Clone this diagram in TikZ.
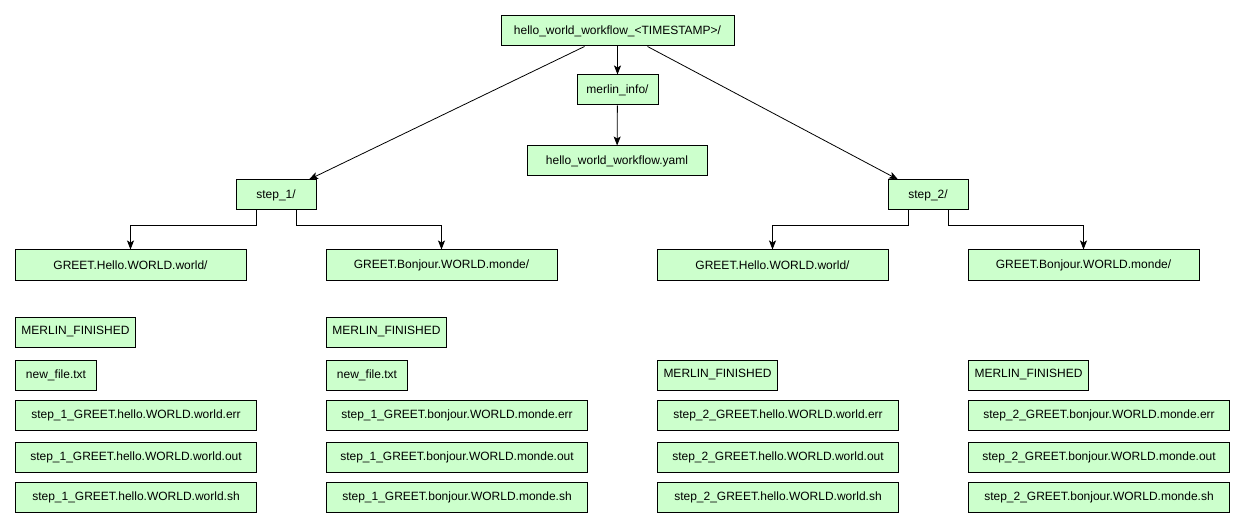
\documentclass[tikz,border=0pt]{standalone}
\usepackage{fontspec}
\setmainfont{Liberation Sans}
\usetikzlibrary{arrows.meta}
\definecolor{boxgreen}{HTML}{CCFFCC}

\begin{document}
\begin{tikzpicture}[x=1pt, y=-1pt,
        entry/.style={rectangle, draw=black, fill=boxgreen, line width=1pt, inner sep=0pt,
            minimum height=30pt, font=\fontsize{12}{14}\selectfont},
        listentry/.style={entry, anchor=west},
        arrow/.style={-{Stealth[length=9pt, width=7pt, inset=2pt]}, line width=0.8pt}
    ]
        \useasboundingbox (0,0) rectangle (1244,529);

        % Workflow root and its info folder
        \node[entry, minimum width=233pt] (root) at (617.5,31) {hello\_world\_workflow\_<TIMESTAMP>/};
        \node[entry, minimum width=81pt] (merlin) at (617.5,90) {merlin\_info/};
        \node[entry, minimum width=180pt] (spec) at (617,161) {hello\_world\_workflow.yaml};

        % Step folders
        \node[entry, minimum width=80pt] (step1) at (276,195) {step\_1/};
        \node[entry, minimum width=80pt] (step2) at (928,195) {step\_2/};

        % Parameter folders
        \node[entry, minimum width=231pt] (hello1) at (130.5,265) {GREET.Hello.WORLD.world/};
        \node[entry, minimum width=231pt] (bonjour1) at (441.5,265) {GREET.Bonjour.WORLD.monde/};
        \node[entry, minimum width=231pt] (hello2) at (772.5,265) {GREET.Hello.WORLD.world/};
        \node[entry, minimum width=231pt] (bonjour2) at (1083.5,265) {GREET.Bonjour.WORLD.monde/};

        % Files of step_1, Hello
        \node[listentry, minimum width=120pt] (h1_fin) at (15,332) {MERLIN\_FINISHED};
        \node[listentry, minimum width=81pt] (h1_txt) at (15,375) {new\_file.txt};
        \node[listentry, minimum width=241pt] (h1_err) at (15,415) {step\_1\_GREET.hello.WORLD.world.err};
        \node[listentry, minimum width=241pt] (h1_out) at (15,457) {step\_1\_GREET.hello.WORLD.world.out};
        \node[listentry, minimum width=241pt] (h1_sh) at (15,497) {step\_1\_GREET.hello.WORLD.world.sh};

        % Files of step_1, Bonjour
        \node[listentry, minimum width=120pt] (b1_fin) at (326,332) {MERLIN\_FINISHED};
        \node[listentry, minimum width=81pt] (b1_txt) at (326,375) {new\_file.txt};
        \node[listentry, minimum width=261pt] (b1_err) at (326,415) {step\_1\_GREET.bonjour.WORLD.monde.err};
        \node[listentry, minimum width=261pt] (b1_out) at (326,457) {step\_1\_GREET.bonjour.WORLD.monde.out};
        \node[listentry, minimum width=261pt] (b1_sh) at (326,497) {step\_1\_GREET.bonjour.WORLD.monde.sh};

        % Files of step_2, Hello
        \node[listentry, minimum width=120pt] (h2_fin) at (657,375) {MERLIN\_FINISHED};
        \node[listentry, minimum width=241pt] (h2_err) at (657,415) {step\_2\_GREET.hello.WORLD.world.err};
        \node[listentry, minimum width=241pt] (h2_out) at (657,457) {step\_2\_GREET.hello.WORLD.world.out};
        \node[listentry, minimum width=241pt] (h2_sh) at (657,497) {step\_2\_GREET.hello.WORLD.world.sh};

        % Files of step_2, Bonjour
        \node[listentry, minimum width=120pt] (b2_fin) at (968,375) {MERLIN\_FINISHED};
        \node[listentry, minimum width=261pt] (b2_err) at (968,415) {step\_2\_GREET.bonjour.WORLD.monde.err};
        \node[listentry, minimum width=261pt] (b2_out) at (968,457) {step\_2\_GREET.bonjour.WORLD.monde.out};
        \node[listentry, minimum width=261pt] (b2_sh) at (968,497) {step\_2\_GREET.bonjour.WORLD.monde.sh};

        % Connections
        \draw[arrow] (root) -- (merlin);
        \draw[arrow] (merlin) -- (spec);
        \draw[arrow] ([xshift=-33pt]root.south) -- ([xshift=33pt]step1.north);
        \draw[arrow] ([xshift=30pt]root.south) -- ([xshift=-30pt]step2.north);
        \draw[arrow] ([xshift=-20pt]step1.south) -- ++(0,15) -| (hello1.north);
        \draw[arrow] ([xshift=20pt]step1.south) -- ++(0,15) -| (bonjour1.north);
        \draw[arrow] ([xshift=-20pt]step2.south) -- ++(0,15) -| (hello2.north);
        \draw[arrow] ([xshift=20pt]step2.south) -- ++(0,15) -| (bonjour2.north);

    \end{tikzpicture}
\end{document}
